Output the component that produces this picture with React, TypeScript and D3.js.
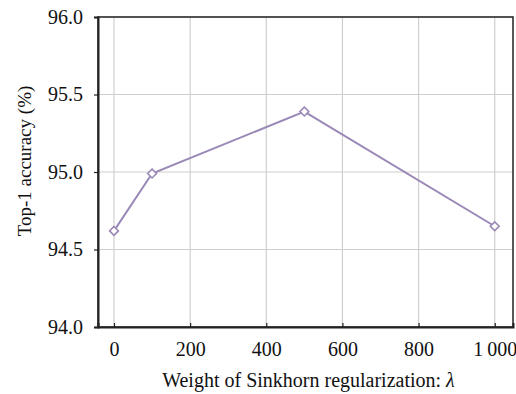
import { useRef, useEffect } from 'react';
import * as d3 from 'd3';

const lambdas = [0, 100, 500, 1000];
const accuracy = [94.62, 94.99, 95.39, 94.65];
const xTicks = [0, 200, 400, 600, 800, 1000];
const yTicks = [94.0, 94.5, 95.0, 95.5, 96.0];

function App() {
    const ref = useRef<SVGSVGElement>(null);

    useEffect(() => {
        const root = d3.select(ref.current);
        root.selectAll('*').remove();

        const W = 516, H = 394;
        const m = { top: 17, right: 3, bottom: 67, left: 98 };
        const font = 'Liberation Serif';
        root.attr('width', W).attr('height', H).attr('font-family', font);

        const x = d3.scaleLinear().domain([-42, 1048]).range([m.left, W - m.right]);
        const y = d3.scaleLinear().domain([94, 96]).range([H - m.bottom, m.top]);

        const g = root.append('g');

        // grid
        g.selectAll('.vg').data(xTicks).enter().append('line')
            .attr('x1', d => x(d)).attr('x2', d => x(d))
            .attr('y1', m.top).attr('y2', H - m.bottom)
            .attr('stroke', '#cfcfcf').attr('stroke-width', 1.2);
        g.selectAll('.hg').data(yTicks).enter().append('line')
            .attr('x1', m.left).attr('x2', W - m.right)
            .attr('y1', d => y(d)).attr('y2', d => y(d))
            .attr('stroke', '#cfcfcf').attr('stroke-width', 1.2);

        // frame
        g.append('rect')
            .attr('x', m.left).attr('y', m.top)
            .attr('width', W - m.right - m.left).attr('height', H - m.bottom - m.top)
            .attr('fill', 'none').attr('stroke', '#222').attr('stroke-width', 1.5);

        // axes
        const xAxis = d3.axisBottom(x).tickValues(xTicks)
            .tickSize(-4).tickPadding(15)
            .tickFormat(d => (d as number) === 1000 ? '1\u2009000' : String(d));
        const yAxis = d3.axisLeft(y).tickValues(yTicks)
            .tickSize(4).tickPadding(11)
            .tickFormat(d3.format('.1f'));

        const gx = g.append('g').attr('transform', `translate(0,${H - m.bottom})`).call(xAxis);
        const gy = g.append('g').attr('transform', `translate(${m.left},0)`).call(yAxis);
        [gx, gy].forEach(a => {
            a.attr('font-family', font).attr('font-size', 20);
            a.select('.domain').attr('stroke', '#222').attr('stroke-width', 2);
            a.selectAll('.tick line').attr('stroke', '#222').attr('stroke-width', 1.2);
            a.selectAll('.tick text').attr('fill', '#111');
        });

        // line
        const pts = lambdas.map((l, i) => [l, accuracy[i]] as [number, number]);
        g.append('path')
            .datum(pts)
            .attr('d', d3.line<[number, number]>().x(d => x(d[0])).y(d => y(d[1])))
            .attr('fill', 'none').attr('stroke', '#9a88b6').attr('stroke-width', 2);

        g.selectAll('.mk').data(pts).enter().append('path')
            .attr('transform', d => `translate(${x(d[0])},${y(d[1])})`)
            .attr('d', d3.symbol().type(d3.symbolDiamond2).size(50))
            .attr('fill', 'white').attr('stroke', '#9a88b6').attr('stroke-width', 1.6);

        // labels
        root.append('text')
            .attr('x', 308.5).attr('y', 387)
            .attr('text-anchor', 'middle')
            .attr('font-family', font).attr('font-size', 20).attr('fill', '#111')
            .html('Weight of Sinkhorn regularization: <tspan font-style="italic">λ</tspan>');

        root.append('text')
            .attr('transform', 'translate(31,161) rotate(-90)')
            .attr('text-anchor', 'middle')
            .attr('font-family', font).attr('font-size', 19).attr('fill', '#111')
            .text('Top-1 accuracy (%)');
    }, []);

    return <svg ref={ref} style={{ position: 'absolute', left: 0, top: 0, display: 'block' }} />;
}

export default App;
